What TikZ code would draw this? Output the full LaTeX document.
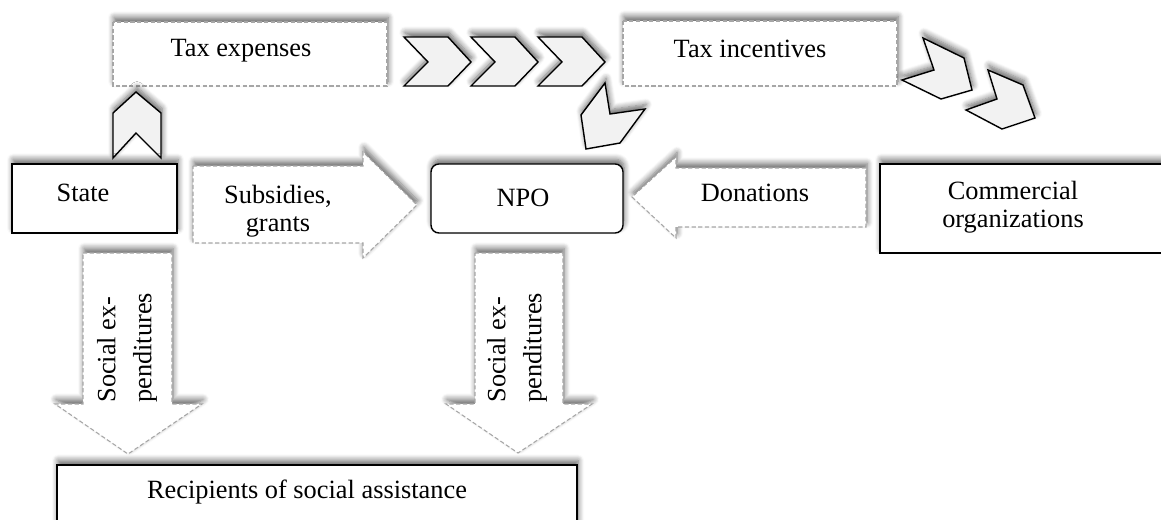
\documentclass[tikz,border=0pt]{standalone}
\usepackage{fontspec}
\setmainfont{Liberation Serif}
\usetikzlibrary{shadows.blur}
\definecolor{dashgray}{HTML}{A6A6A6}
\definecolor{chevfill}{HTML}{F2F2F2}
\begin{document}
\begin{tikzpicture}[x=0.02cm, y=-0.02cm,
        font=\fontsize{15}{16}\selectfont,
        fuzz/.style={blur shadow={shadow xshift=0.6pt, shadow yshift=2.6pt, shadow blur radius=3.4pt, shadow blur steps=7, shadow opacity=60}},
        dashbox/.style={draw=dashgray, dash pattern=on 2.4pt off 1.4pt, line width=0.6pt, fill=white, fuzz},
        solidbox/.style={draw=black, line width=0.8pt, fill=white, fuzz},
        chevron/.style={draw=black, line width=0.8pt, fill=chevfill, fuzz},
        sideways/.style={rotate=90, anchor=west, align=left, inner sep=0pt, font=\fontsize{15}{20.5}\selectfont}]
            \useasboundingbox (0, 0) rectangle (1161, 520);

            \draw[dashbox] (113, 22) rectangle (387, 86);
            \node (taxexp) at (241, 51) {Tax expenses};
            \draw[dashbox] (623, 21) rectangle (897, 86);
            \node (taxinc) at (750, 49) {Tax incentives};

            \foreach \dx in {0, 67, 134}
                \draw[chevron] (404+\dx, 37) -- (448+\dx, 37) -- (471+\dx, 62) -- (448+\dx, 86) -- (404+\dx, 86) -- (428+\dx, 62) -- cycle;
            \draw[chevron] (605, 83) -- (610, 114) -- (645, 109) -- (620, 143) -- (586, 149) -- (581, 115) -- cycle;
            \draw[chevron] (923, 38) -- (964, 58) -- (972, 90) -- (941, 99) -- (902, 80) -- (934, 70) -- cycle;
            \draw[chevron] (988, 70) -- (1023, 85) -- (1035, 118) -- (1002, 129) -- (966, 110) -- (997, 99) -- cycle;
            \draw[chevron] (113, 158) -- (113, 113) -- (136, 92) -- (161, 113) -- (161, 158) -- (136, 133) -- cycle;

            \draw[solidbox] (12, 164) rectangle (177, 233);
            \node (state) at (83, 193) {State};
            \draw[solidbox, rounded corners=4.5pt] (431, 164) rectangle (623, 233);
            \node (npo) at (523, 198) {NPO};
            \draw[solidbox] (880, 164) rectangle (1170, 253);
            \node[align=center] (commorg) at (1013, 207) {Commercial\\organizations};

            \draw[dashbox] (193, 166) -- (363, 166) -- (363, 152) -- (417, 205) -- (363, 258) -- (363, 243) -- (193, 243) -- cycle;
            \node[align=center] (subs) at (278, 211) {Subsidies,\\grants};
            \draw[dashbox] (866, 168) -- (676, 168) -- (676, 157) -- (632, 197) -- (676, 238) -- (676, 227) -- (866, 227) -- cycle;
            \node (don) at (755, 193) {Donations};

            \draw[dashbox] (83, 253) -- (172, 253) -- (172, 404) -- (202, 404) -- (128, 454) -- (55, 404) -- (83, 404) -- cycle;
            \node[sideways] (socstate) at (127, 403) {Social ex-\\penditures};
            \draw[dashbox] (475, 253) -- (563, 253) -- (563, 404) -- (592, 404) -- (518, 453) -- (446, 404) -- (475, 404) -- cycle;
            \node[sideways] (socnpo) at (517, 403) {Social ex-\\penditures};

            \draw[solidbox] (57, 465) rectangle (577, 530);
            \node (recip) at (307, 492) {Recipients of social assistance};
        \end{tikzpicture}
\end{document}
